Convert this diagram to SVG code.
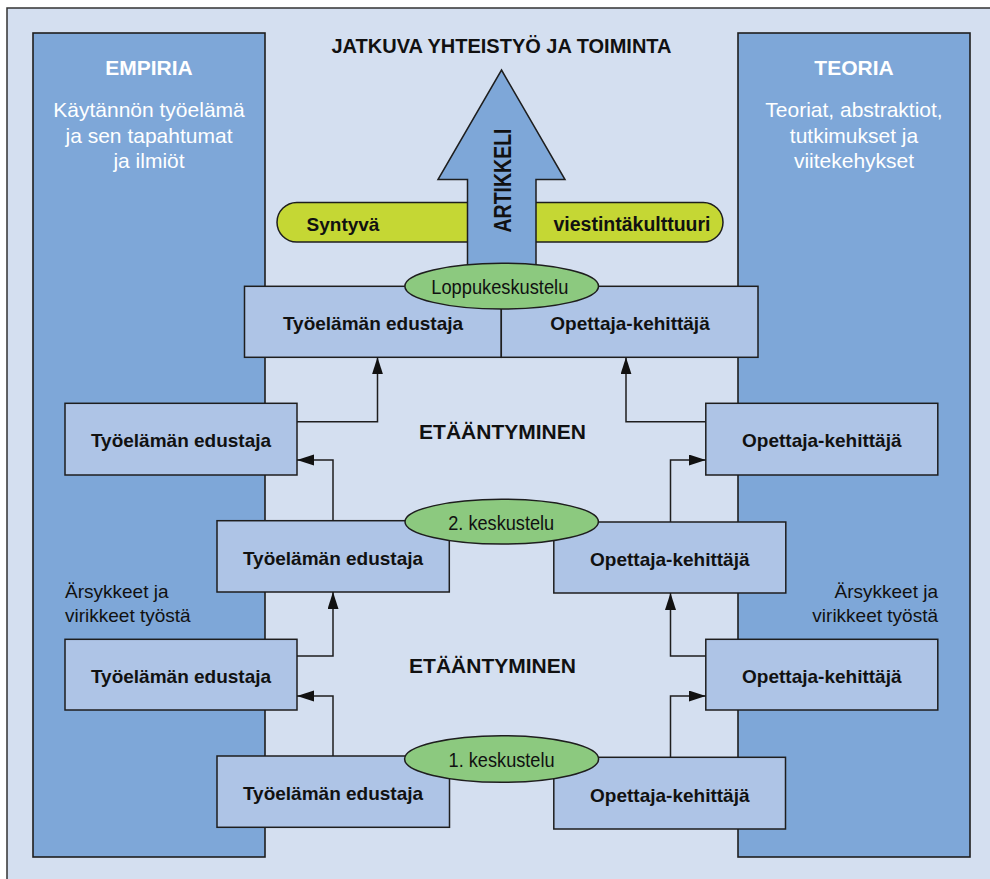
<svg xmlns="http://www.w3.org/2000/svg" width="990" height="879" viewBox="0 0 990 879">
  <style>
    text { font-family: "Liberation Sans", Arial, sans-serif; }
    .panel { fill: #7ea7d8; stroke: #1e1e1e; stroke-width: 1.6; }
    .box { fill: #aec4e6; stroke: #1e1e1e; stroke-width: 1.5; }
    .talk { fill: #8cc97f; stroke: #1e1e1e; stroke-width: 1.5; }
    .head { font-size: 21px; font-weight: bold; fill: #ffffff; text-anchor: middle; }
    .sub { font-size: 21px; fill: #ffffff; text-anchor: middle; }
    .label { font-size: 19px; font-weight: bold; fill: #111111; text-anchor: middle; }
    .talklabel { font-size: 20.5px; fill: #111111; text-anchor: middle; }
    .note { font-size: 19px; fill: #111111; }
    .big { font-size: 21px; font-weight: bold; fill: #111111; text-anchor: middle; }
    .conn { fill: none; stroke: #1e1e1e; stroke-width: 1.5; }
  </style>
  <defs>
    <marker id="tip" markerUnits="userSpaceOnUse" markerWidth="18" markerHeight="12" refX="17" refY="5.5" orient="auto">
      <path d="M0,0 L17,5.5 L0,11 z" fill="#111111"/>
    </marker>
  </defs>

  <!-- page frame -->
  <rect x="0" y="0" width="990" height="879" fill="#ffffff"/>
  <rect x="7" y="8" width="1000" height="900" fill="#d4dff0" stroke="#333333" stroke-width="1.5"/>

  <!-- side panels -->
  <g id="empiria">
    <rect class="panel" x="33" y="33" width="232" height="824"/>
    <text class="head" x="149" y="75">EMPIRIA</text>
    <text class="sub" x="149" y="117">Käytännön työelämä</text>
    <text class="sub" x="149" y="143">ja sen tapahtumat</text>
    <text class="sub" x="149" y="168">ja ilmiöt</text>
    <text class="note" x="65" y="598">Ärsykkeet ja</text>
    <text class="note" x="65" y="622">virikkeet työstä</text>
  </g>
  <g id="teoria">
    <rect class="panel" x="738" y="33" width="232" height="824"/>
    <text class="head" x="854" y="75">TEORIA</text>
    <text class="sub" x="854" y="117">Teoriat, abstraktiot,</text>
    <text class="sub" x="854" y="143">tutkimukset ja</text>
    <text class="sub" x="854" y="168">viitekehykset</text>
    <text class="note" x="938" y="598" text-anchor="end">Ärsykkeet ja</text>
    <text class="note" x="938" y="622" text-anchor="end">virikkeet työstä</text>
  </g>

  <!-- headline -->
  <text id="title" class="big" x="501.5" y="53" style="font-size:20px">JATKUVA YHTEISTYÖ JA TOIMINTA</text>

  <!-- emerging communication culture band -->
  <g id="culture">
    <rect x="277" y="202.5" width="446" height="39.5" rx="19.75" fill="#c5d734" stroke="#1e1e1e" stroke-width="1.5"/>
    <text class="label" x="343" y="230.5">Syntyvä</text>
    <text class="label" x="632" y="230.5" style="font-size:19.5px">viestintäkulttuuri</text>
  </g>

  <!-- article arrow -->
  <g id="artikkeli">
    <polygon points="501.5,70 565,179.5 536,179.5 536,266 467.5,266 467.5,179.5 438,179.5" fill="#7ea7d8" stroke="#1e1e1e" stroke-width="1.5"/>
    <text class="big" transform="translate(510.5,180.5) rotate(-90)" style="font-size:24px" textLength="104" lengthAdjust="spacingAndGlyphs">ARTIKKELI</text>
  </g>

  <!-- distancing labels -->
  <text class="big" x="502.5" y="439">ETÄÄNTYMINEN</text>
  <text class="big" x="492.5" y="673">ETÄÄNTYMINEN</text>

  <!-- final joint pair -->
  <g id="final-tyoelama">
    <rect class="box" x="244.5" y="286.3" width="256.8" height="71"/>
    <text class="label" x="373" y="330">Työelämän edustaja</text>
  </g>
  <g id="final-opettaja">
    <rect class="box" x="501.3" y="286.3" width="256.7" height="71"/>
    <text class="label" x="630" y="330">Opettaja-kehittäjä</text>
  </g>

  <!-- second round -->
  <g id="r2-tyoelama">
    <rect class="box" x="65" y="403.3" width="232" height="71.7"/>
    <text class="label" x="181" y="446.7">Työelämän edustaja</text>
  </g>
  <g id="r2-opettaja">
    <rect class="box" x="705.8" y="403.3" width="232" height="71.7"/>
    <text class="label" x="821.8" y="446.7">Opettaja-kehittäjä</text>
  </g>
  <g id="m2-tyoelama">
    <rect class="box" x="217" y="520.7" width="232.3" height="71.3"/>
    <text class="label" x="333" y="565">Työelämän edustaja</text>
  </g>
  <g id="m2-opettaja">
    <rect class="box" x="553.8" y="522" width="232" height="71"/>
    <text class="label" x="669.8" y="566">Opettaja-kehittäjä</text>
  </g>

  <!-- first round -->
  <g id="r1-tyoelama">
    <rect class="box" x="65" y="639.3" width="232" height="70.7"/>
    <text class="label" x="181" y="682.7">Työelämän edustaja</text>
  </g>
  <g id="r1-opettaja">
    <rect class="box" x="705.8" y="639.3" width="232" height="70.7"/>
    <text class="label" x="821.8" y="682.7">Opettaja-kehittäjä</text>
  </g>
  <g id="m1-tyoelama">
    <rect class="box" x="217" y="756" width="232.5" height="71.3"/>
    <text class="label" x="333" y="800">Työelämän edustaja</text>
  </g>
  <g id="m1-opettaja">
    <rect class="box" x="553.8" y="757.3" width="231.7" height="71.7"/>
    <text class="label" x="669.8" y="801.5">Opettaja-kehittäjä</text>
  </g>

  <!-- discussions -->
  <g id="loppukeskustelu">
    <ellipse class="talk" cx="501.7" cy="286.2" rx="96.8" ry="22.9"/>
    <text class="talklabel" x="499.8" y="293.5" textLength="137" lengthAdjust="spacingAndGlyphs">Loppukeskustelu</text>
  </g>
  <g id="keskustelu-2">
    <ellipse class="talk" cx="501.7" cy="521.7" rx="96.7" ry="22.4"/>
    <text class="talklabel" x="501.2" y="530" textLength="106" lengthAdjust="spacingAndGlyphs">2. keskustelu</text>
  </g>
  <g id="keskustelu-1">
    <ellipse class="talk" cx="501.6" cy="759" rx="97" ry="23.3"/>
    <text class="talklabel" x="501.6" y="766.5" textLength="106" lengthAdjust="spacingAndGlyphs">1. keskustelu</text>
  </g>

  <!-- connectors -->
  <g id="connectors">
    <polyline class="conn" points="297,421.7 377.5,421.7 377.5,357.3" marker-end="url(#tip)"/>
    <polyline class="conn" points="333,520.7 333,460 297,460" marker-end="url(#tip)"/>
    <polyline class="conn" points="297,656 333,656 333,592" marker-end="url(#tip)"/>
    <polyline class="conn" points="333,756 333,696 297,696" marker-end="url(#tip)"/>
    <polyline class="conn" points="705.8,421.7 626,421.7 626,357.3" marker-end="url(#tip)"/>
    <polyline class="conn" points="670.5,522 670.5,460 705.8,460" marker-end="url(#tip)"/>
    <polyline class="conn" points="705.8,656 670.5,656 670.5,593" marker-end="url(#tip)"/>
    <polyline class="conn" points="670.5,757.3 670.5,696 705.8,696" marker-end="url(#tip)"/>
  </g>
</svg>
